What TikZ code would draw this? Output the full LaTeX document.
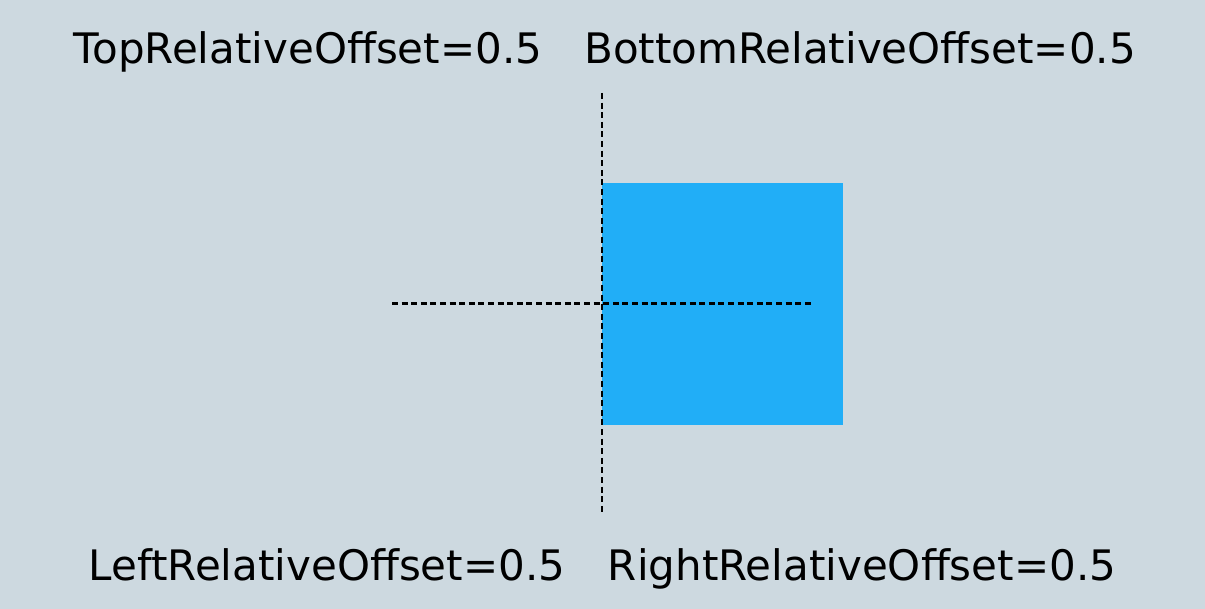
\documentclass[tikz,border=0pt]{standalone}
\usepackage{fontspec}
\setmainfont{DejaVu Sans}
\definecolor{bg}{RGB}{205,217,224}
\definecolor{sq}{RGB}{33,174,247}
\begin{document}
\begin{tikzpicture}[x=0.75pt,y=-0.75pt,
  lbl/.style={inner sep=0pt,anchor=base,font=\fontsize{31.5pt}{36pt}\selectfont},
  guide/.style={line width=1.9pt,dash pattern=on 4.5pt off 2.7pt}]
\fill[bg] (0,0) rectangle (1205,609);
\useasboundingbox (0,0) rectangle (1205,609);
\node[fill=sq,inner sep=0pt,minimum width=241*0.75pt,minimum height=242*0.75pt,anchor=north west] (box) at (602,183) {};
\coordinate (vt) at (602,93);
\coordinate (vb) at (602,515);
\coordinate (hl) at (392,303.5);
\coordinate (hr) at (813,303.5);
\draw[guide] (vt) -- (vb);
\draw[guide] (hl) -- (hr);
\node[lbl] (top) at (308,64) {TopRelativeOffset=0.5};
\node[lbl] (bottom) at (860,64) {BottomRelativeOffset=0.5};
\node[lbl] (left) at (327,580) {LeftRelativeOffset=0.5};
\node[lbl] (right) at (862,580) {RightRelativeOffset=0.5};
\end{tikzpicture}
\end{document}
